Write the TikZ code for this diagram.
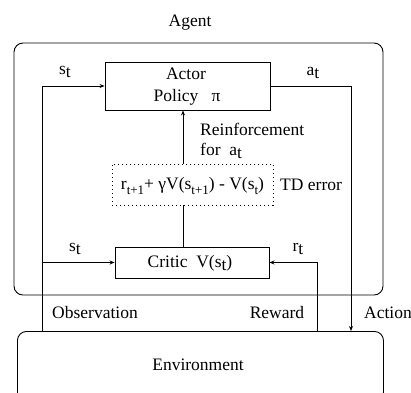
\documentclass[tikz,border=0pt]{standalone}
\usepackage{fontspec}
\setmainfont{Liberation Serif}
\usetikzlibrary{arrows.meta}
\newcommand\lo[1]{\raisebox{-0.45ex}{#1}}
\newcommand\lsm[1]{\raisebox{-0.55ex}{\fontsize{13}{13}\selectfont #1}}
\begin{document}
\begin{tikzpicture}[x=1pt,y=-1pt,
  every node/.style={font=\fontsize{17.5}{21}\selectfont, inner sep=0pt},
  blk/.style={draw, line width=0.9pt, rectangle},
  conn/.style={line width=0.9pt},
  arr/.style={conn, -{Stealth[length=5pt,width=4pt]}},
  frame/.style={draw, line width=0.9pt, rounded corners=9pt},
  dotbox/.style={draw, line width=0.9pt, dash pattern=on 1pt off 3pt}]
\useasboundingbox (0,0) rectangle (411,392);
% frames
\draw[frame] (14,43) rectangle (383,295);
\node[frame, minimum width=366pt, minimum height=70pt, anchor=north west] (env) at (17,331) {};
\node at (198,365) {Environment};
\node at (190,23) {Agent};
% boxes
\node[blk, minimum width=165pt, minimum height=48pt] (actor) at (187.5,86) {};
\node at (186,74) {Actor};
\node at (187,97) {Policy\ \ \ π};
\node[dotbox, minimum width=161pt, minimum height=41pt] (td) at (192.5,184.5) {};
\node at (192.5,186) {r\lsm{t+1}+ γV(s\lsm{t+1}) - V(s\lsm{t})};
\node[blk, minimum width=154pt, minimum height=31pt] (critic) at (192,262.5) {};
\node at (190,263) {Critic\ \ V(s\lo{t})};
% coordinates
\coordinate (vx) at (183,0);
\coordinate (ox) at (42,0);
\coordinate (ax) at (351,0);
\coordinate (rx) at (317,0);
% connectors
\draw[arr] (td.north -| vx) -- (actor.south -| vx);
\draw[conn] (critic.north -| vx) -- (td.south -| vx);
\draw[arr] (env.north -| ox) |- (actor.west);
\draw[arr] (ox |- critic.west) -- (critic.west);
\draw[arr] (actor.east) -| (env.north -| ax);
\draw[arr] (env.north -| rx) |- (critic.east);
% labels
\node at (65,72) {s\lo{t}};
\node at (313,73) {a\lo{t}};
\node at (75,249) {s\lo{t}};
\node at (298,249) {r\lo{t}};
\node[anchor=west] at (200,129) {Reinforcement};
\node[anchor=west] at (200,151) {for\ \ a\lo{t}};
\node[anchor=west] at (280,185) {TD error};
\node at (95,313) {Observation};
\node at (277,313) {Reward};
\node[anchor=west] at (364,313) {Action};
\end{tikzpicture}
\end{document}
